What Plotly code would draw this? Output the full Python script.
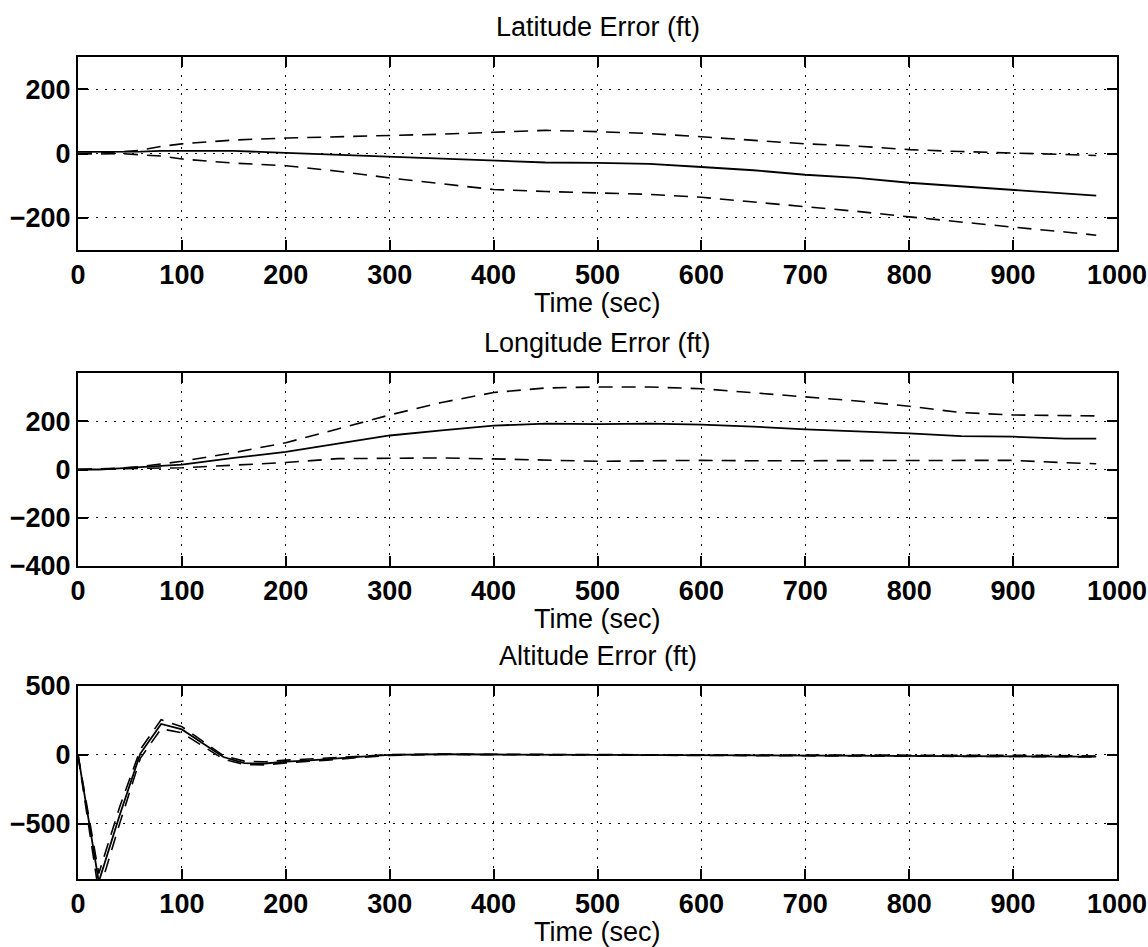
import plotly.graph_objects as go

# ---------------- data ----------------
t_ll = [0, 20, 40, 60, 80, 100, 150, 200, 250, 300, 350, 400, 450, 500,
        550, 600, 650, 700, 750, 800, 850, 900, 950, 980]

lat_mean = [5, 5, 5, 6, 8, 8, 8, 2, -4, -11, -16, -22, -28, -29,
            -32, -42, -52, -66, -76, -91, -102, -114, -123, -131]
lat_upper = [0, 2, 5, 10, 22, 30, 42, 48, 52, 55, 60, 66, 72, 68,
             62, 52, 42, 30, 23, 12, 6, 1, -4, -6]
lat_lower = [0, -2, 0, -3, -8, -17, -30, -38, -55, -76, -93, -112, -118, -122,
             -127, -136, -150, -165, -180, -197, -214, -229, -244, -254]

lon_mean = [0, 0, 5, 10, 14, 20, 48, 73, 107, 141, 162, 182, 190, 188,
            190, 186, 178, 166, 158, 150, 138, 136, 128, 128]
lon_upper = [0, 2, 6, 12, 22, 34, 70, 111, 168, 226, 278, 319, 338, 342,
             342, 335, 318, 300, 284, 262, 236, 226, 224, 222]
lon_lower = [0, 0, 3, 5, 6, 7, 18, 29, 45, 48, 48, 44, 38, 34,
             36, 38, 36, 36, 38, 38, 38, 38, 28, 24]

t_alt = [0, 20, 40, 60, 80, 100, 120, 140, 160, 180, 200, 220, 240, 260, 280,
         300, 350, 400, 450, 500, 550, 600, 650, 700, 750, 800, 850, 900, 950, 980]
alt_mean = [0, -920, -440, 10, 225, 185, 85, -15, -60, -62, -48, -42, -30, -18, -8,
            0, 5, 3, 2, 0, -2, -1, -3, -2, -4, -3, -6, -5, -9, -12]
alt_upper = [0, -860, -380, 40, 255, 205, 100, -5, -45, -50, -38, -30, -20, -10, -4,
             2, 6, 4, 3, 2, 0, 1, -1, 0, -2, -1, -3, -2, -5, -8]
alt_lower = [0, -1000, -500, -25, 190, 160, 65, -30, -70, -72, -58, -50, -38, -25, -12,
             -3, 3, 2, 1, -2, -4, -3, -5, -4, -6, -5, -9, -8, -13, -16]

x_ticks = [0, 100, 200, 300, 400, 500, 600, 700, 800, 900, 1000]
panels = [
    ("Latitude Error (ft)", t_ll, lat_mean, lat_upper, lat_lower, [-300, 300], [-200, 0, 200]),
    ("Longitude Error (ft)", t_ll, lon_mean, lon_upper, lon_lower, [-400, 400], [-400, -200, 0, 200]),
    ("Altitude Error (ft)", t_alt, alt_mean, alt_upper, alt_lower, [-900, 500], [-500, 0, 500]),
]
x_title = "Time (sec)"

# ---------------- layout geometry (pixels) ----------------
W, H = 1148, 947
frame_left, frame_right = 78, 1117
frame_tops = [57, 373, 686]
frame_h = 193

fig = go.Figure()
FONT = "Liberation Sans, Arial, Helvetica, sans-serif"

annotations = []
for i, (title, t, m, up, lo, yr, yt) in enumerate(panels):
    n = "" if i == 0 else str(i + 1)
    xa, ya = "x" + n, "y" + n
    for vals, dash, w in ((up, "14px,9px", 1.6), (lo, "14px,9px", 1.6), (m, "solid", 1.8)):
        fig.add_trace(go.Scatter(x=t, y=vals, mode="lines", xaxis=xa, yaxis=ya,
                                 line=dict(color="black", width=w, dash=dash),
                                 showlegend=False, hoverinfo="skip"))
    top = frame_tops[i]
    bot = top + frame_h
    dom_y = [1 - bot / H, 1 - top / H]
    axis_common = dict(showline=True, linecolor="black", linewidth=2, mirror="ticks",
                       ticks="inside", ticklen=10, tickwidth=1.5, tickcolor="black",
                       showgrid=True, gridcolor="black", gridwidth=1.2, griddash="2px,7px",
                       zeroline=False, automargin=False,
                       tickfont=dict(family=FONT, size=27, color="black", weight="bold"))
    fig.update_layout(**{
        ("xaxis" + n): dict(domain=[frame_left / W, frame_right / W], range=[0, 1000],
                            tickvals=x_ticks, anchor=ya, **axis_common),
        ("yaxis" + n): dict(domain=dom_y, range=yr, tickvals=yt, anchor=xa, **axis_common),
    })
    cx = (frame_left + frame_right) / 2 / W
    annotations.append(dict(text=title, x=cx, y=1 - (top - 30) / H, xref="paper", yref="paper",
                            xanchor="center", yanchor="middle", showarrow=False,
                            font=dict(family=FONT, size=27, color="black")))
    annotations.append(dict(text=x_title, x=cx, y=1 - (bot + 53) / H, xref="paper", yref="paper",
                            xanchor="center", yanchor="middle", showarrow=False,
                            font=dict(family=FONT, size=27, color="black")))

fig.update_layout(width=W, height=H, margin=dict(l=0, r=0, t=0, b=0),
                  paper_bgcolor="white", plot_bgcolor="white", template="none",
                  annotations=annotations, showlegend=False)

fig.write_html("out.html")
